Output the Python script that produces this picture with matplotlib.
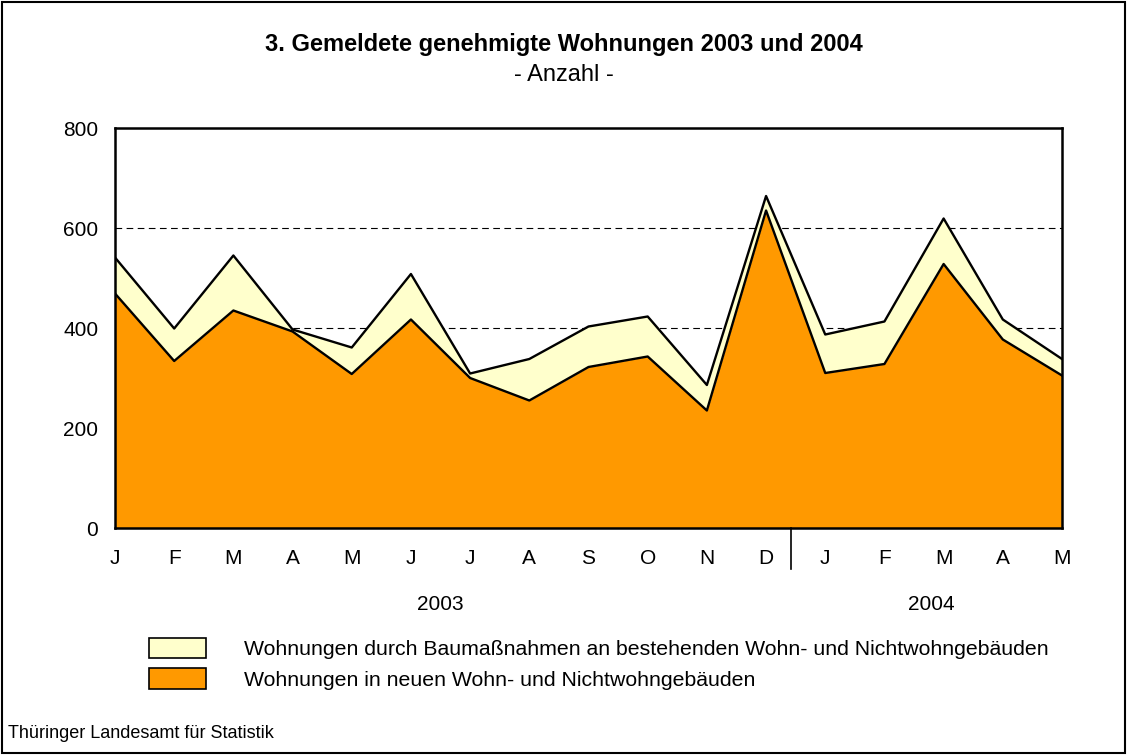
"""Gemeldete genehmigte Wohnungen 2003 und 2004 - gestapelte Flaechen."""
import numpy as np
import matplotlib

matplotlib.use("Agg")
import matplotlib.pyplot as plt
from matplotlib.patches import Patch, Rectangle

plt.rcParams["font.family"] = ["Liberation Sans", "DejaVu Sans"]

months = ["J", "F", "M", "A", "M", "J", "J", "A", "S", "O", "N", "D",
          "J", "F", "M", "A", "M"]
years = ["2003", "2004"]
# Wohnungen in neuen Wohn- und Nichtwohngebaeuden
neu = [469, 334, 435, 393, 308, 417, 300, 255, 322, 343, 235, 635,
       310, 328, 528, 377, 305]
# Wohnungen durch Baumassnahmen an bestehenden Gebaeuden
bestand = [72, 65, 110, 4, 53, 91, 9, 83, 81, 80, 51, 29,
           77, 85, 91, 40, 33]

label_bestand = "Wohnungen durch Baumaßnahmen an bestehenden Wohn- und Nichtwohngebäuden"
label_neu = "Wohnungen in neuen Wohn- und Nichtwohngebäuden"

x = np.arange(len(months))
neu = np.array(neu)
gesamt = neu + np.array(bestand)

W, H = 1127, 755
fig = plt.figure(figsize=(W / 100, H / 100), dpi=100)
ax = fig.add_axes([115 / W, 1 - 528 / H, (1062 - 115) / W, 400 / H])

c_neu = "#FF9900"
c_best = "#FFFFCC"
ax.fill_between(x, 0, neu, color=c_neu, lw=0, zorder=2)
ax.fill_between(x, neu, gesamt, color=c_best, lw=0, zorder=2)
ax.plot(x, gesamt, color="black", lw=1.7, zorder=3)
ax.plot(x, neu, color="black", lw=1.7, zorder=3)

ax.set_xlim(0, len(months) - 1)
ax.set_ylim(0, 800)
ax.set_yticks([0, 200, 400, 600, 800])
for yv in [400, 600]:
    ax.axhline(yv, color="black", lw=0.8, ls=(0, (6, 4)), zorder=1)
ax.set_xticks(x)
ax.set_xticklabels(months)
ax.tick_params(axis="x", length=0, pad=15, labelsize=15)
ax.tick_params(axis="y", length=0, pad=12, labelsize=15)
for s in ax.spines.values():
    s.set_linewidth(1.8)
    s.set_zorder(4)

# Trennlinie zwischen den Jahren und Jahresbeschriftung
ax.plot([11.42, 11.42], [0, -82], color="black", lw=1.2, clip_on=False)
ax.text(5.5, -152, years[0], ha="center", va="center", fontsize=15)
ax.text(13.8, -152, years[1], ha="center", va="center", fontsize=15)

fig.text(0.5, 1 - 45 / H, "3. Gemeldete genehmigte Wohnungen 2003 und 2004",
         ha="center", va="center", fontsize=17, fontweight="bold")
fig.text(0.5, 1 - 75 / H, "- Anzahl -", ha="center", va="center", fontsize=17)
fig.text(8 / W, 1 - 733 / H, "Thüringer Landesamt für Statistik",
         ha="left", va="center", fontsize=13)

handles = [Patch(facecolor=c_best, edgecolor="black", lw=1.2, label=label_bestand),
           Patch(facecolor=c_neu, edgecolor="black", lw=1.2, label=label_neu)]
fig.legend(handles=handles, loc="upper left", bbox_to_anchor=(140 / W, 1 - 629 / H),
           frameon=False, fontsize=15.3, handlelength=2.7, handleheight=1.1,
           handletextpad=1.8, labelspacing=0.45, borderaxespad=0)

fig.patches.append(Rectangle((2 / W, 2 / H), 1 - 4 / W, 1 - 4 / H, transform=fig.transFigure,
                             fill=False, edgecolor="black", lw=1.5))

fig.savefig("out.png", dpi=100)
